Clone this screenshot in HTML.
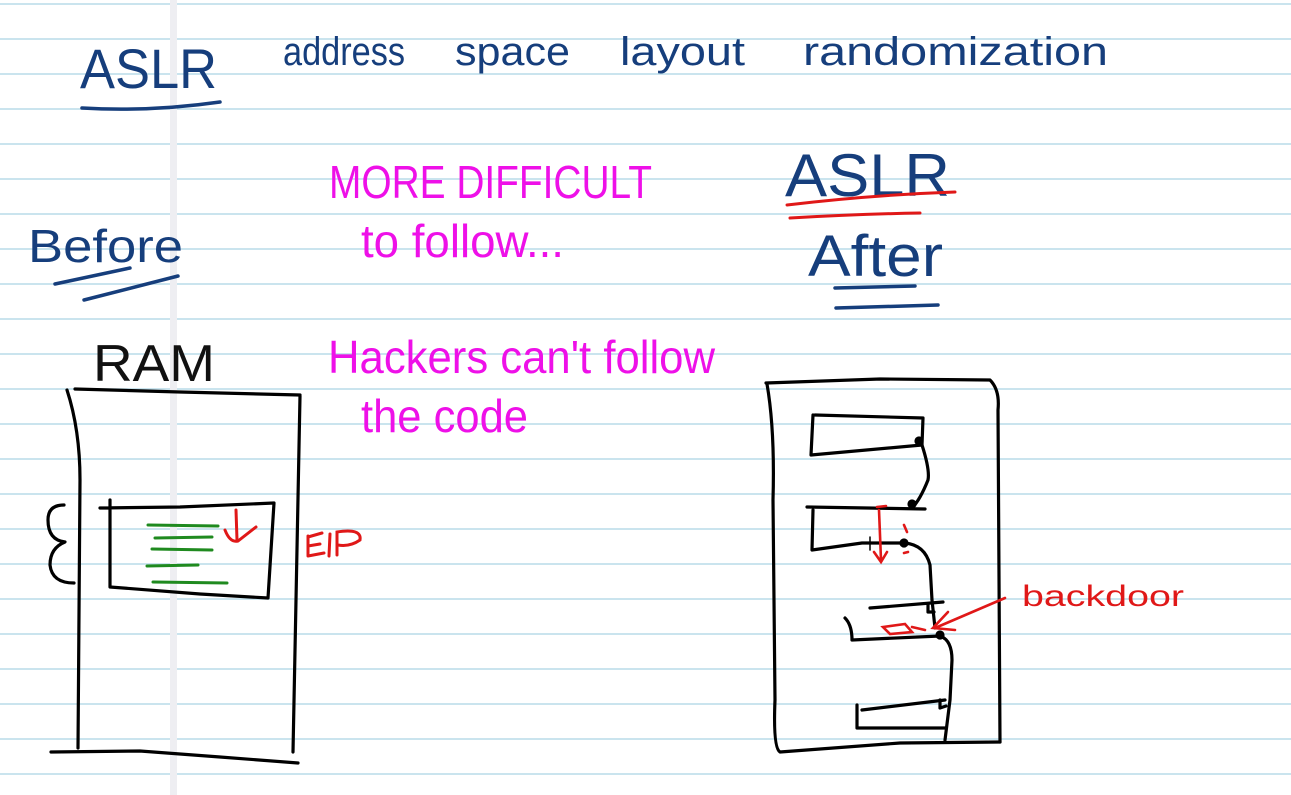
<!DOCTYPE html>
<html><head><meta charset="utf-8"><style>
html,body{margin:0;padding:0;background:#fff;}
svg{display:block;}
</style></head><body>
<svg width="1291" height="795" viewBox="0 0 1291 795" xmlns="http://www.w3.org/2000/svg">
<rect width="1291" height="795" fill="#fff"/>
<g stroke="#b9dbe8" stroke-width="1.6">
<line x1="0" x2="1291" y1="4" y2="4"/><line x1="0" x2="1291" y1="39" y2="39"/><line x1="0" x2="1291" y1="74" y2="74"/><line x1="0" x2="1291" y1="109" y2="109"/><line x1="0" x2="1291" y1="144" y2="144"/><line x1="0" x2="1291" y1="179" y2="179"/><line x1="0" x2="1291" y1="214" y2="214"/><line x1="0" x2="1291" y1="249" y2="249"/><line x1="0" x2="1291" y1="284" y2="284"/><line x1="0" x2="1291" y1="319" y2="319"/><line x1="0" x2="1291" y1="354" y2="354"/><line x1="0" x2="1291" y1="389" y2="389"/><line x1="0" x2="1291" y1="424" y2="424"/><line x1="0" x2="1291" y1="459" y2="459"/><line x1="0" x2="1291" y1="494" y2="494"/><line x1="0" x2="1291" y1="529" y2="529"/><line x1="0" x2="1291" y1="564" y2="564"/><line x1="0" x2="1291" y1="599" y2="599"/><line x1="0" x2="1291" y1="634" y2="634"/><line x1="0" x2="1291" y1="669" y2="669"/><line x1="0" x2="1291" y1="704" y2="704"/><line x1="0" x2="1291" y1="739" y2="739"/><line x1="0" x2="1291" y1="774" y2="774"/>
</g>
<rect x="170" y="0" width="7" height="795" fill="#eeeef2"/>

<g fill="#163e7c" font-family="Liberation Sans, sans-serif">
<text x="80" y="88" font-size="56" textLength="137" lengthAdjust="spacingAndGlyphs">ASLR</text>
<text x="283" y="65" font-size="40" textLength="122" lengthAdjust="spacingAndGlyphs">address</text>
<text x="455" y="65" font-size="40" textLength="115" lengthAdjust="spacingAndGlyphs">space</text>
<text x="620" y="65" font-size="40" textLength="125" lengthAdjust="spacingAndGlyphs">layout</text>
<text x="803" y="65" font-size="40" textLength="305" lengthAdjust="spacingAndGlyphs">randomization</text>
<text x="28" y="262" font-size="46" textLength="155" lengthAdjust="spacingAndGlyphs">Before</text>
<text x="785" y="196" font-size="60" textLength="165" lengthAdjust="spacingAndGlyphs">ASLR</text>
<text x="808" y="276" font-size="58" textLength="135" lengthAdjust="spacingAndGlyphs">After</text>
</g>
<text x="93" y="381" font-family="Liberation Sans, sans-serif" font-size="52" fill="#111" textLength="122" lengthAdjust="spacingAndGlyphs">RAM</text>

<g fill="none" stroke="#163e7c" stroke-width="3.5" stroke-linecap="round">
<path d="M82 108 Q150 112 220 102"/>
<path d="M55 284 L130 268"/>
<path d="M84 300 L178 276"/>
<path d="M835 288 L915 286"/><path d="M836 308 L938 305"/>
</g>
<g fill="none" stroke="#e01818" stroke-width="3" stroke-linecap="round">
<path d="M787 205 Q870 195 955 192"/><path d="M790 218 Q860 214 920 213"/>
</g>

<g fill="#ee10e8" font-family="Liberation Sans, sans-serif" font-size="46">
<text x="329" y="198" textLength="323" lengthAdjust="spacingAndGlyphs">MORE DIFFICULT</text>
<text x="361" y="257" textLength="203" lengthAdjust="spacingAndGlyphs">to follow...</text>
<text x="328" y="373" textLength="387" lengthAdjust="spacingAndGlyphs">Hackers can't follow</text>
<text x="361" y="432" textLength="167" lengthAdjust="spacingAndGlyphs">the code</text>
</g>

<!-- left RAM -->
<g fill="none" stroke="#000" stroke-width="3.2" stroke-linecap="round" stroke-linejoin="round">
<path d="M67 390 Q80 430 80 480 L78 748"/>
<path d="M75 389 L180 392 L300 395"/>
<path d="M300 396 L296 600 L293 752"/>
<path d="M51 752 L140 751 L220 757 L298 763"/>
<path d="M100 508 L180 507 L274 503 L268 598 L200 594 L110 587 L110 500"/>
<path d="M64 505 Q48 505 48 520 Q48 540 65 542 Q50 548 50 565 Q52 583 74 583"/>
</g>
<g stroke="#1f8a1f" stroke-width="3" stroke-linecap="round">
<line x1="148" y1="525" x2="218" y2="526"/>
<line x1="155" y1="538" x2="212" y2="537"/>
<line x1="152" y1="549" x2="212" y2="550"/>
<line x1="147" y1="566" x2="198" y2="565"/>
<line x1="153" y1="582" x2="227" y2="583"/>
</g>
<g fill="none" stroke="#e01818" stroke-width="3" stroke-linecap="round">
<path d="M236 510 L237 540"/>
<path d="M225 530 Q230 543 238 541 L256 527"/>
<path d="M308 556 L308 536 M308 537 L322 533 M308 546 L320 544 M308 556 L324 553 M330 534 L329 556 M337 555 L337 532 Q362 528 360 540 Q350 547 338 545"/>
</g>

<!-- right RAM -->
<g fill="none" stroke="#000" stroke-width="3.2" stroke-linecap="round" stroke-linejoin="round">
<path d="M766 383 L880 379 L990 380 Q1000 390 998 410 L1000 742"/>
<path d="M767 384 Q775 430 773 500 L775 700 Q773 748 780 752 L900 743 L1000 742"/>
<path d="M815 415 L923 418 L922 445 L811 455 L813 415"/>
<path d="M922 445 Q930 470 928 480 Q920 500 912 508"/>
<path d="M807 507 L925 509"/>
<path d="M813 510 L812 550 L862 543 L905 543 Q925 545 930 565 L932 600"/>
<path d="M870 608 L943 602"/>
<path d="M845 618 Q852 625 852 640 L940 636 Q952 640 952 660 L950 700 L945 740"/>
<path d="M932 600 L935 628"/>
<path d="M862 710 L945 700"/>
<path d="M857 705 L857 728 L945 728"/>
<circle cx="919" cy="441" r="3" fill="#000"/>
<circle cx="912" cy="504" r="3" fill="#000"/>
<circle cx="904" cy="543" r="3" fill="#000"/>
<circle cx="940" cy="635" r="3" fill="#000"/>
<path d="M928 604 L928 612 L934 612"/>
<path d="M940 700 L940 708 L946 706"/>
<path d="M870 537 L870 550 M864 543 L876 543" stroke-width="1.5"/>
</g>
<g fill="none" stroke="#e01818" stroke-width="2.6" stroke-linecap="round">
<path d="M879 510 L881 560 M874 552 L881 562 L887 552"/>
<path d="M877 507 L886 506"/>
<path d="M904 525 L907 532"/><path d="M904 553 L908 552"/>
<path d="M1005 598 L935 628"/>
<path d="M948 612 L933 628 L955 630"/>
<path d="M883 627 L905 624 L912 632 L890 634 Z"/>
<path d="M912 627 L925 630"/>
</g>
<text x="1022" y="606" fill="#e01818" font-family="Liberation Sans, sans-serif" font-size="30" textLength="162" lengthAdjust="spacingAndGlyphs">backdoor</text>
</svg>
</body></html>
